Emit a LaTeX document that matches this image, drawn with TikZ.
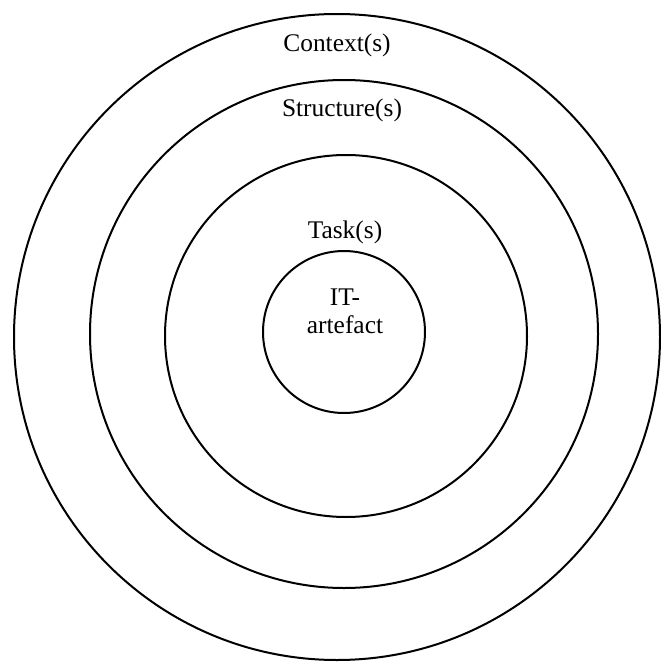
\documentclass[tikz,border=0pt]{standalone}
\usepackage{fontspec}
\setmainfont{Liberation Serif}
\usetikzlibrary{positioning}
\tikzset{ring/.style={draw, circle, line width=1pt, inner sep=0pt}}

\begin{document}
\begin{tikzpicture}[x=0.5pt, y=-0.5pt, font=\fontsize{12.7}{14}\selectfont]
        \useasboundingbox (0,0) rectangle (660,664);

        % Concentric rings, outside in
        \node[ring, minimum size=323pt] (context) at (337,337) {};
        \node[ring, minimum size=254pt] (structure) at (344,334) {};
        \node[ring, minimum size=181pt] (task) at (346,336) {};
        \node[ring, minimum size=81pt] (artefact) at (344,332) {};

        % Ring labels
        \node (contextlabel) at (337,45) {Context(s)};
        \node (structurelabel) at (342,110) {Structure(s)};
        \node (tasklabel) at (345,232) {Task(s)};
        \node[align=center] (artefactlabel) at (345,311) {IT-\\artefact};

    \end{tikzpicture}
\end{document}
